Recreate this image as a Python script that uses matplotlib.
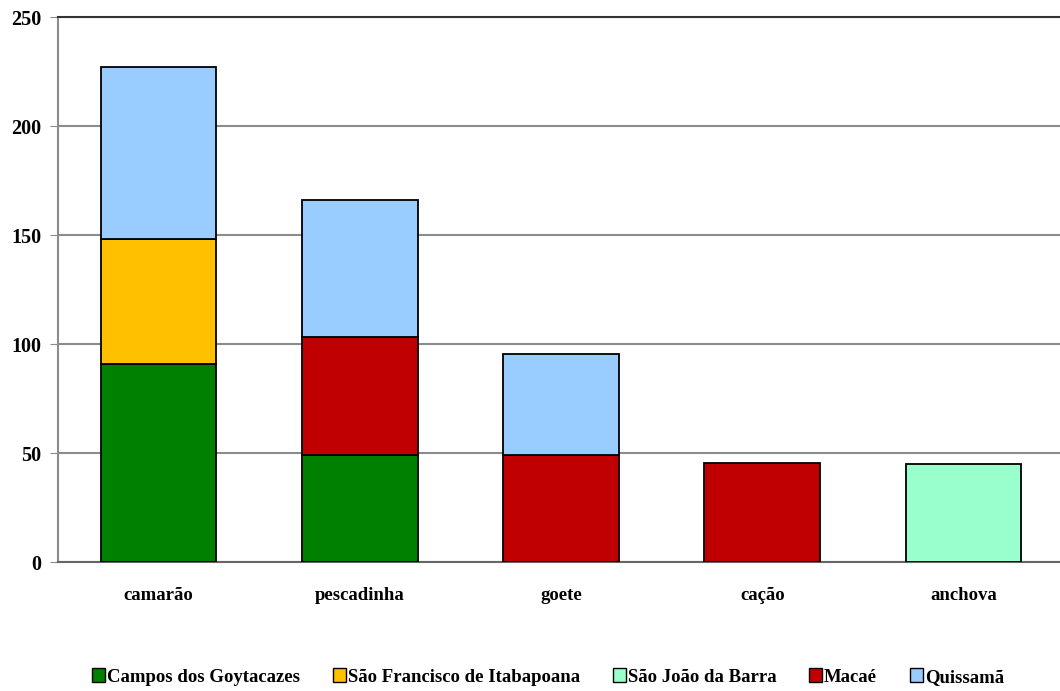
import numpy as np
import matplotlib
matplotlib.use("Agg")
from matplotlib import pyplot as plt
from matplotlib.patches import Patch

categories = ["camarão", "pescadinha", "goete", "cação", "anchova"]
series = ["Campos dos Goytacazes", "São Francisco de Itabapoana",
          "São João da Barra", "Macaé", "Quissamã"]
campos = [91, 49, 0, 0, 0]
sao_francisco = [57, 0, 0, 0, 0]
sao_joao = [0, 0, 0, 0, 45]
macae = [0, 54, 49, 45.5, 0]
quissama = [79, 63, 46.5, 0, 0]
colors = ["#008000", "#FFC000", "#99FFCC", "#C00000", "#99CCFF"]

plt.rcParams['font.family'] = ['Liberation Serif', 'DejaVu Serif']

fig = plt.figure(figsize=(10.6, 6.91), dpi=100)
ax = fig.add_axes([58 / 1060, 1 - 562 / 691, 1006 / 1060, 545 / 691])

x = np.arange(len(categories))
bottom = np.zeros(len(categories))
for vals, c in zip([campos, sao_francisco, sao_joao, macae, quissama], colors):
    vals = np.array(vals, dtype=float)
    mask = vals > 0
    ax.bar(x[mask], vals[mask], 0.575, bottom=bottom[mask], color=c,
           edgecolor="black", linewidth=1.3, zorder=3)
    bottom += vals

ax.set_xlim(-0.5, 4.5)
ax.set_ylim(0, 250)
ax.set_yticks([0, 50, 100, 150, 200, 250])
ax.yaxis.grid(True, color="#8c8c8c", linewidth=1.5, zorder=0)
ax.set_xticks(x)
ax.set_xticklabels(categories, fontsize=13.5, fontweight="bold")
ax.tick_params(axis="x", length=0, pad=18)
ax.tick_params(axis="y", length=6, color="#8c8c8c", labelsize=14.5, pad=6)
for t in ax.get_yticklabels():
    t.set_fontweight("bold")
ax.spines["right"].set_visible(False)
ax.spines["top"].set_color("#333333")
ax.spines["top"].set_linewidth(1.5)
ax.spines["left"].set_color("#8c8c8c")
ax.spines["left"].set_linewidth(1.5)
ax.spines["bottom"].set_color("#666666")
ax.spines["bottom"].set_linewidth(1.5)

handles = [Patch(facecolor=c, edgecolor="black", label=s) for s, c in zip(series, colors)]
fig.legend(handles=handles, loc="center", bbox_to_anchor=(548 / 1060, 1 - 677 / 691),
           ncol=5, frameon=False, prop={"weight": "bold", "size": 13.5},
           handlelength=0.7, handleheight=0.7, handletextpad=0.1, columnspacing=1.75)

fig.savefig("out.png", dpi=100)
